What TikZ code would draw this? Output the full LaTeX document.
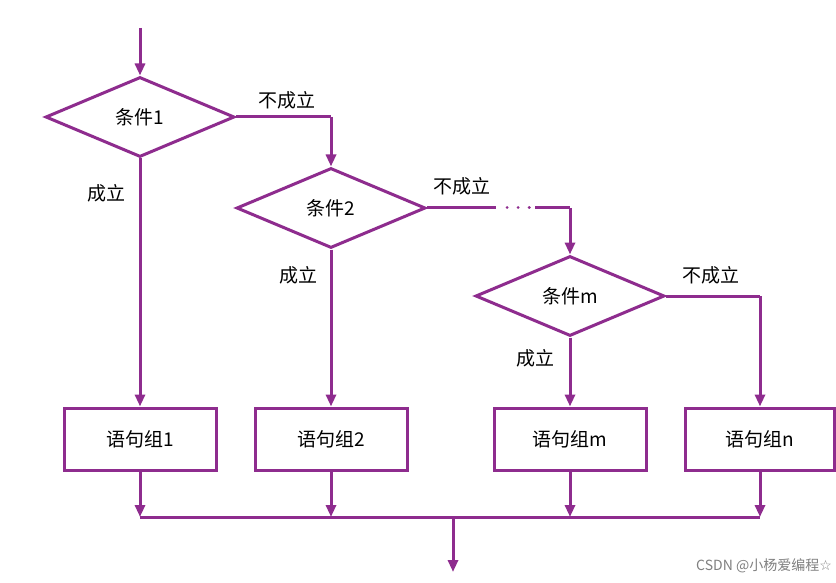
\documentclass[tikz,border=0pt]{standalone}
\usepackage{fontspec}
\setmainfont{Noto Sans CJK SC}
\newfontfamily\symfont{DejaVu Sans}
\usetikzlibrary{shapes.geometric,arrows.meta}
\definecolor{pur}{HTML}{8E2C8E}
\begin{document}
\begin{tikzpicture}[x=1pt,y=-1pt,
  line/.style={draw=pur,line width=3pt},
  arr/.style={line,-{Triangle[length=12pt,width=10pt]}},
  dia/.style={line,diamond,minimum width=189pt,minimum height=80pt,inner sep=0pt,font=\fontsize{19}{19}\selectfont},
  box/.style={line,minimum width=152pt,minimum height=62pt,inner sep=0pt,font=\fontsize{19}{19}\selectfont},
  lab/.style={font=\fontsize{19}{19}\selectfont,inner sep=0pt}]
\useasboundingbox[fill=white] (0,0) rectangle (836,583);
\node[dia] (d1) at (140,117) {条件1};
\node[dia] (d2) at (331,208) {条件2};
\node[dia] (dm) at (570,296) {条件m};
\node[box] (b1) at (140,439) {语句组1};
\node[box] (b2) at (331,439) {语句组2};
\node[box] (bm) at (570,439) {语句组m};
\node[box,minimum width=149pt] (bn) at (760,439) {语句组n};
\coordinate (top) at (140,28);
\coordinate (j1) at (140,517);
\coordinate (j2) at (331,517);
\coordinate (jm) at (570,517);
\coordinate (jn) at (760,517);
\coordinate (jc) at (453,517);
\coordinate (out) at (453,572);
\coordinate (c1) at (331,117);
\coordinate (c2a) at (496,208);
\coordinate (c2b) at (535,208);
\coordinate (c2c) at (570,208);
\coordinate (cm) at (760,296);
\draw[arr] (top) -- (d1.north);
\draw[line] (d1.east) -- (c1);
\draw[arr] (c1) -- (d2.north);
\draw[line] (d2.east) -- (c2a);
\draw[line,line cap=round,dash pattern=on 0.1pt off 11pt] (c2a) ++(11,0) -- (c2b);
\draw[line] (c2b) -- (c2c);
\draw[arr] (c2c) -- (dm.north);
\draw[line] (dm.east) -- (cm);
\draw[arr] (cm) -- (bn.north);
\draw[arr] (d1.south) -- (b1.north);
\draw[arr] (d2.south) -- (b2.north);
\draw[arr] (dm.south) -- (bm.north);
\draw[arr] (b1.south) -- (j1);
\draw[arr] (b2.south) -- (j2);
\draw[arr] (bm.south) -- (jm);
\draw[arr] (bn.south) -- (jn);
\draw[line] (j1) -- (jn);
\draw[arr] (jc) -- (out);
\node[lab] (n1) at (287,100) {不成立};
\node[lab] (n2) at (462,186) {不成立};
\node[lab] (n3) at (711,275) {不成立};
\node[lab] (y1) at (106,193) {成立};
\node[lab] (y2) at (298,275) {成立};
\node[lab] (y3) at (535,358) {成立};
\node[lab,font=\fontsize{14}{14}\selectfont,text=gray,anchor=east] (wm) at (832,566) {CSDN @小杨爱编程{\symfont ☆}};
\end{tikzpicture}
\end{document}
